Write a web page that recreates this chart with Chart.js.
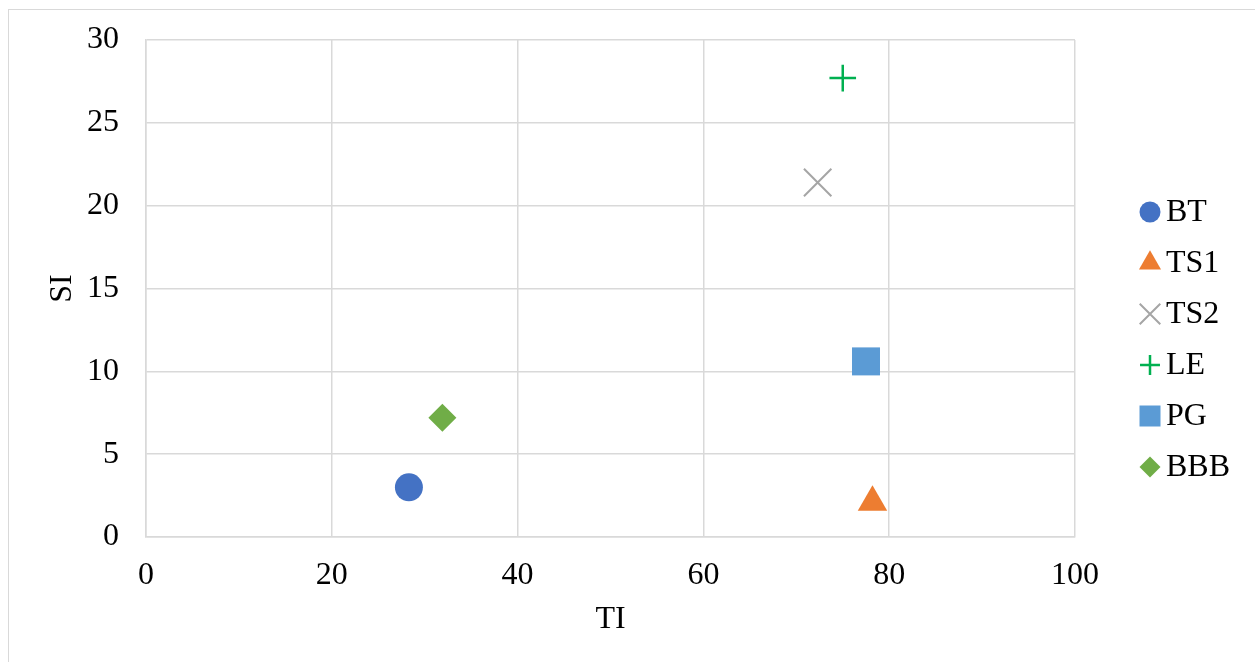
<!DOCTYPE html>
<html>
<head>
<meta charset="utf-8">
<title>TI vs SI</title>
<script src="https://cdn.jsdelivr.net/npm/chart.js@4.4.0/dist/chart.umd.min.js"></script>
<style>
  html, body { margin: 0; padding: 0; background: #fff; }
  #wrap { position: relative; width: 1255px; height: 662px; overflow: hidden; }
  #frame { position: absolute; left: 8px; top: 9px; width: 1300px; height: 700px; border: 1px solid #d9d9d9; box-sizing: border-box; }
  #chart { position: absolute; left: 0; top: 0; }
</style>
</head>
<body>
<div id="wrap">
  <div id="frame"></div>
  <canvas id="chart" width="1255" height="662"></canvas>
</div>
<script>
// data
const seriesNames = ['BT', 'TS1', 'TS2', 'LE', 'PG', 'BBB'];
const tiValues = [28.3, 78.2, 72.3, 75.0, 77.5, 31.9];
const siValues = [3.0, 2.1, 21.4, 27.7, 10.6, 7.2];
const xTickValues = [0, 20, 40, 60, 80, 100];
const yTickValues = [0, 5, 10, 15, 20, 25, 30];

// look of each series
const colors = ['#4472c4', '#ed7d31', '#a5a5a5', '#00b050', '#5b9bd5', '#70ad47'];
const markers = ['circle', 'triangle', 'crossRot', 'cross', 'rect', 'rectRot'];
const radii = [14, 17, 19.4, 13.3, 19.8, 14];
const lineWidths = [0, 0, 2, 2.5, 0, 0];

const FONT = '"Liberation Serif", "Times New Roman", serif';
const GRID = '#d9d9d9';

const datasets = seriesNames.map((name, i) => ({
  label: name,
  data: [{ x: tiValues[i], y: siValues[i] }],
  pointStyle: markers[i],
  pointRadius: radii[i],
  pointBackgroundColor: colors[i],
  pointBorderColor: colors[i],
  pointBorderWidth: lineWidths[i],
  showLine: false
}));

// legend drawn on the right, markers drawn by Chart.js itself
const sideLegend = {
  id: 'sideLegend',
  afterDraw(chart) {
    const ctx = chart.ctx;
    const x0 = chart.chartArea.right + 75;
    const y0 = chart.chartArea.top + 172;
    ctx.save();
    ctx.font = '32px ' + FONT;
    ctx.textAlign = 'left';
    ctx.textBaseline = 'middle';
    chart.data.datasets.forEach((ds, i) => {
      const y = y0 + i * 51;
      ctx.fillStyle = ds.pointBackgroundColor;
      ctx.strokeStyle = ds.pointBorderColor;
      ctx.lineWidth = ds.pointBorderWidth;
      Chart.helpers.drawPoint(ctx, {
        pointStyle: ds.pointStyle,
        radius: ds.pointRadius * 0.75,
        rotation: 0,
        borderWidth: ds.pointBorderWidth
      }, x0, y);
      ctx.fillStyle = '#000';
      ctx.fillText(ds.label, x0 + 16, y + 1);
    });
    ctx.restore();
  }
};

new Chart(document.getElementById('chart'), {
  type: 'scatter',
  data: { datasets },
  plugins: [sideLegend],
  options: {
    responsive: false,
    animation: false,
    devicePixelRatio: 1,
    layout: { padding: { top: 40, right: 180, bottom: 0, left: 0 } },
    plugins: {
      legend: { display: false },
      tooltip: { enabled: false }
    },
    scales: {
      x: {
        type: 'linear',
        min: 0,
        max: 100,
        afterBuildTicks: s => { s.ticks = xTickValues.map(v => ({ value: v })); },
        afterFit: s => { s.height = 125; s.paddingLeft = 0; s.paddingRight = 0; },
        grid: { color: GRID, lineWidth: 1.5, drawTicks: false },
        border: { color: GRID, width: 1.5 },
        ticks: { color: '#000', font: { family: FONT, size: 32 }, padding: 19, maxRotation: 0 },
        title: { display: true, text: 'TI', color: '#000', font: { family: FONT, size: 32 }, padding: { top: 0, bottom: 23 } }
      },
      y: {
        type: 'linear',
        min: 0,
        max: 30,
        afterBuildTicks: s => { s.ticks = yTickValues.map(v => ({ value: v })); },
        afterFit: s => { s.width = 146; s.paddingTop = 0; s.paddingBottom = 0; },
        grid: { color: GRID, lineWidth: 1.5, drawTicks: false },
        border: { color: GRID, width: 1.5 },
        ticks: { color: '#000', font: { family: FONT, size: 32 }, padding: 27 },
        title: { display: true, text: 'SI', color: '#000', font: { family: FONT, size: 32 }, padding: { top: 43, bottom: 0 } }
      }
    }
  }
});
</script>
</body>
</html>
